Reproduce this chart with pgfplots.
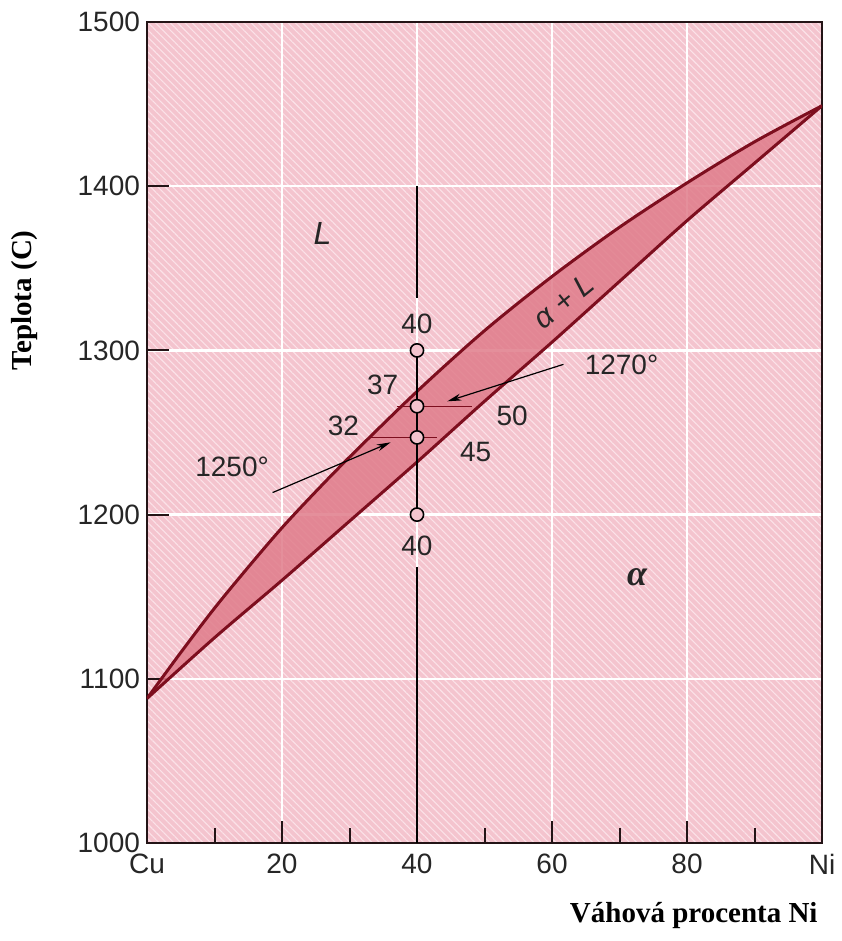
\documentclass[border=0pt]{standalone}
\usepackage{pgfplots}
\pgfplotsset{compat=1.18}
\usepgfplotslibrary{fillbetween}
\usetikzlibrary{patterns.meta,arrows.meta}
\usepackage{fontspec}
\setmainfont{Liberation Sans}
\newfontfamily\serifb{Liberation Serif}
\definecolor{bgpink}{RGB}{244,196,206}
\definecolor{hatch}{RGB}{251,226,232}
\definecolor{bandred}{RGB}{224,124,138}
\definecolor{curvered}{RGB}{125,14,30}
\definecolor{framec}{RGB}{35,20,22}
\tikzset{lab/.style={font=\fontsize{14}{16}\selectfont, text=black!85}}
\begin{document}
\begin{tikzpicture}
\begin{axis}[
  name=ax,
  scale only axis, width=337.5pt, height=410.5pt,
  xmin=0, xmax=100, ymin=1000, ymax=1500,
  xtick={0,20,40,60,80,100}, xticklabels={Cu,20,40,60,80,Ni},
  minor xtick={10,30,50,70,90},
  ytick={1000,1100,1200,1300,1400,1500},
  tick pos=left, tick align=inside,
  major tick length=11pt, minor tick length=7.5pt,
  every tick/.style={framec, line width=1pt},
  axis line style={framec, line width=1pt},
  xmajorgrids, ymajorgrids,
  major grid style={white, line width=1.2pt},
  ticklabel style={font=\fontsize{14}{16}\selectfont, text=black!85},
  xticklabel style={yshift=-2pt},
  /pgf/number format/assume math mode=true,
  /pgf/number format/1000 sep={},
  axis background/.style={fill=bgpink, postaction={pattern={Lines[angle=-45,distance=2.6pt,line width=0.55pt]}, pattern color=hatch}},
  xlabel={Váhová procenta Ni}, ylabel={Teplota (C)},
  label style={font=\serifb\bfseries\fontsize{14.5}{16}\selectfont},
  xlabel style={at={(axis description cs:0.81,-0.088)}, anchor=center},
  ylabel style={at={(axis description cs:-0.181,0.661)}, anchor=center},
]
% liquidus (upper) and solidus (lower)
\addplot[draw=none, name path=up, smooth] coordinates {
 (0,1088) (5,1116) (10,1143) (15,1168) (20,1192) (25,1214) (30,1235) (40,1275) (50,1312) (60,1345) (70,1375) (80,1402) (90,1427) (100,1449)};
\addplot[draw=none, name path=lo, smooth] coordinates {
 (0,1088) (10,1125) (20,1160) (30,1196) (40,1232) (50,1269) (60,1305) (70,1342) (80,1379) (90,1414) (100,1449)};
\addplot[fill=bandred, fill opacity=0.85] fill between[of=up and lo];
\addplot[curvered, line width=1.5pt, smooth] coordinates {
 (0,1088) (5,1116) (10,1143) (15,1168) (20,1192) (25,1214) (30,1235) (40,1275) (50,1312) (60,1345) (70,1375) (80,1402) (90,1427) (100,1449)};
\addplot[curvered, line width=1.5pt, smooth] coordinates {
 (0,1088) (10,1125) (20,1160) (30,1196) (40,1232) (50,1269) (60,1305) (70,1342) (80,1379) (90,1414) (100,1449)};
% tie lines
\addplot[curvered, line width=0.7pt] coordinates {(37,1266) (48.2,1266)};
\addplot[curvered, line width=0.7pt] coordinates {(33,1247) (43,1247)};
% vertical composition line
\addplot[black, line width=0.8pt] coordinates {(40,1400) (40,1332)};
\addplot[black, line width=0.8pt] coordinates {(40,1300) (40,1200)};
\addplot[black, line width=0.8pt] coordinates {(40,1168) (40,1000)};
% arrows
\addplot[black, line width=0.6pt, -{Stealth[length=7pt,width=3.5pt]}] coordinates {(61.7,1291.5) (44.5,1269)};
\addplot[black, line width=0.6pt, -{Stealth[length=7pt,width=3.5pt]}] coordinates {(18.6,1213.4) (36.1,1244)};
% circles
\addplot[only marks, mark=*, mark size=3.3pt, mark options={fill=bgpink, draw=black, line width=0.8pt}] coordinates {(40,1300) (40,1266) (40,1247) (40,1200)};
% labels
\node[lab] at (axis cs:40,1316) {40};
\node[lab] at (axis cs:40,1181) {40};
\node[lab] at (axis cs:34.9,1279) {37};
\node[lab] at (axis cs:29.1,1254) {32};
\node[lab] at (axis cs:54.1,1260) {50};
\node[lab] at (axis cs:48.7,1238) {45};
\node[lab] at (axis cs:70.3,1291) {1270°};
\node[lab] at (axis cs:12.6,1229) {1250°};
\node[lab, font=\itshape\fontsize{16}{18}\selectfont] at (axis cs:26,1371) {L};
\node[lab, rotate=39, inner sep=0pt, font=\itshape\fontsize{15}{17}\selectfont] at (axis cs:61.7,1330) {α + L};
\node[lab, font=\serifb\itshape\bfseries\fontsize{18}{20}\selectfont] at (axis cs:72.6,1162) {α};
\end{axis}
\path (ax.south west) -- ++(-73.5pt,-49pt);
\path (ax.north east) -- ++(8pt,11pt);
\end{tikzpicture}
\end{document}
